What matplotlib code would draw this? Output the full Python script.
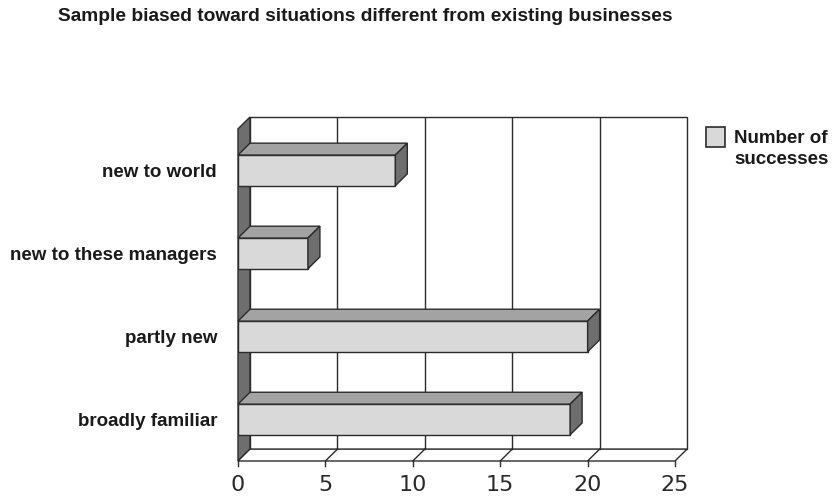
import matplotlib.pyplot as plt
from matplotlib.patches import Polygon, Rectangle

categories = ["broadly familiar", "partly new", "new to these managers", "new to world"]
successes = [19, 20, 4, 9]
xticks = [0, 5, 10, 15, 20, 25]
title = "Sample biased toward situations different from existing businesses"
series_name = ["Number of", "successes"]

# depth of the pseudo-3D box, in data units
dx = 0.686
dy = 0.143
bar_h = 0.37
xmax = 25

front_c = "#d9d9d9"
top_c = "#a3a3a3"
side_c = "#6e6e6e"
edge_c = "#2b2b2b"
text_c = "#1a1a1a"

fig = plt.figure(figsize=(8.38, 4.97), dpi=100)
ax = fig.add_axes([238 / 838, 36 / 497, (687 - 238) / 838, (461 - 117) / 497])
ax.set_xlim(0, xmax + dx)
ax.set_ylim(-0.5, len(categories) - 0.5 + dy)
ax.axis("off")

y0 = -0.5
y1 = len(categories) - 0.5

def poly(pts, fc, z, lw=1.0):
    ax.add_patch(Polygon(pts, closed=True, facecolor=fc, edgecolor=edge_c,
                         linewidth=lw, zorder=z, joinstyle="miter", clip_on=False))

# back wall
poly([(dx, y0 + dy), (xmax + dx, y0 + dy), (xmax + dx, y1 + dy), (dx, y1 + dy)], "white", 1)
# left wall
poly([(0, y0), (dx, y0 + dy), (dx, y1 + dy), (0, y1)], side_c, 2)
# floor
poly([(0, y0), (xmax, y0), (xmax + dx, y0 + dy), (dx, y0 + dy)], "white", 2)

# gridlines on the back wall, floor diagonals and tick marks
for t in xticks:
    if 0 < t < xmax:
        ax.plot([t + dx, t + dx], [y0 + dy, y1 + dy], color=edge_c, lw=1.0, zorder=2)
        ax.plot([t, t + dx], [y0, y0 + dy], color=edge_c, lw=1.0, zorder=3)
    ax.plot([t, t], [y0, y0 - 0.065], color=edge_c, lw=1.0, zorder=3, clip_on=False)
    ax.text(t, y0 - 0.29, str(t), ha="center", va="center", fontsize=16,
            family="DejaVu Sans", color="#2a2a2a")

# bars: front face, top face, end face
for i, v in enumerate(successes):
    b = i - bar_h / 2
    t = i + bar_h / 2
    ax.barh(i, v, height=bar_h, color=front_c, edgecolor=edge_c, linewidth=1.0, zorder=5)
    poly([(0, t), (v, t), (v + dx, t + dy), (dx, t + dy)], top_c, 5)
    poly([(v, b), (v + dx, b + dy), (v + dx, t + dy), (v, t)], side_c, 5)
    ax.text(-1.2, i, categories[i], ha="right", va="center_baseline", fontsize=13.5,
            fontweight="bold", family="Liberation Sans", color=text_c)

fig.text(58 / 838, 1 - 21 / 497, title, ha="left", va="baseline", fontsize=13.8,
         fontweight="bold", family="Liberation Sans", color=text_c)

# legend
fig.patches.append(Rectangle((706 / 838, 1 - 147 / 497), 19 / 838, 20 / 497,
                             transform=fig.transFigure, facecolor=front_c,
                             edgecolor=edge_c, linewidth=1.2))
fig.text(734 / 838, 1 - 143 / 497, series_name[0], ha="left", va="baseline", fontsize=13.5,
         fontweight="bold", family="Liberation Sans", color=text_c)
fig.text(734 / 838, 1 - 164 / 497, series_name[1], ha="left", va="baseline", fontsize=13.5,
         fontweight="bold", family="Liberation Sans", color=text_c)

fig.savefig("out.png", dpi=100, facecolor="white")
